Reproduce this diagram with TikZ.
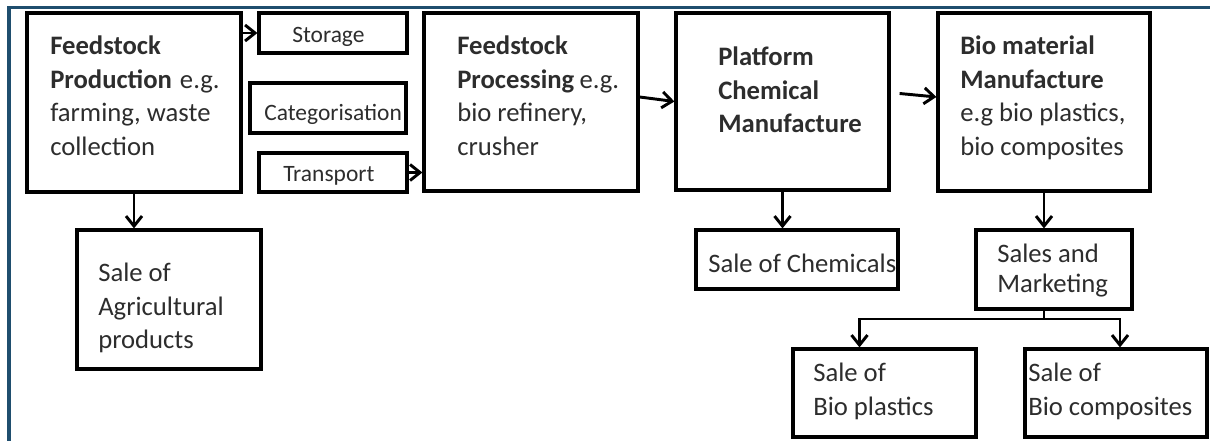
\documentclass[tikz,border=0pt]{standalone}
\usepackage{fontspec}
\setmainfont{Carlito}
\usetikzlibrary{arrows.meta,calc}
\definecolor{framec}{RGB}{31,78,110}
\definecolor{txtc}{RGB}{45,45,45}
\tikzset{
  box/.style={draw=black, line width=2.4pt, inner sep=0pt, fill=none},
  mtxt/.style={font=\fontsize{20}{25.3}\selectfont, text=txtc, align=left, inner sep=0pt, anchor=north west},
  stxt/.style={font=\fontsize{17.6}{21}\selectfont, text=txtc, inner sep=0pt, anchor=base west},
  arr/.style={draw=black, line width=2.2pt, -{Straight Barb[length=7.5pt,width=12pt]}},
  plain/.style={draw=black, line width=2.2pt},
  frameline/.style={draw=framec, line width=2.5pt}
}
\begin{document}
\begin{tikzpicture}[x=0.75pt, y=-0.75pt]
\useasboundingbox (0,0) rectangle (1210,441);
\draw[frameline] (9,441) -- (9,7.5) -- (1210,7.5);
% boxes
\node[box, minimum width=214*0.75pt, minimum height=179*0.75pt] (fp) at (134,102.5) {};
\node[box, minimum width=148*0.75pt, minimum height=40*0.75pt] (stor) at (333,33) {};
\node[box, minimum width=156*0.75pt, minimum height=50*0.75pt] (cat) at (328,108) {};
\node[box, minimum width=148*0.75pt, minimum height=39*0.75pt] (trans) at (333,172.5) {};
\node[box, minimum width=214*0.75pt, minimum height=178*0.75pt] (fproc) at (531,102) {};
\node[box, minimum width=213*0.75pt, minimum height=177*0.75pt] (plat) at (782.5,101.5) {};
\node[box, minimum width=212*0.75pt, minimum height=178*0.75pt] (bio) at (1044,102) {};
\node[box, minimum width=184*0.75pt, minimum height=139*0.75pt] (agri) at (169,299.5) {};
\node[box, minimum width=202*0.75pt, minimum height=59*0.75pt] (chem) at (797,259.5) {};
\node[box, minimum width=156*0.75pt, minimum height=79*0.75pt] (sm) at (1054,269.5) {};
\node[box, minimum width=183*0.75pt, minimum height=88*0.75pt] (bpl) at (884.5,393) {};
\node[box, minimum width=182*0.75pt, minimum height=88*0.75pt] (bcomp) at (1116,393) {};
% texts
\node[mtxt] (tfp) at (50,30.4) {\strut\textbf{Feedstock}\\\textbf{Production}\hspace{0.3em}e.g.\\farming, waste\\collection};
\node[stxt] (tstor) at (292,43) {Storage};
\node[stxt] (tcat) at (264,121) {Categorisation};
\node[stxt] (ttrans) at (283,182) {Transport};
\node[mtxt] (tfproc) at (457,30.4) {\strut\textbf{Feedstock}\\\textbf{Processing}\hspace{0.2em}e.g.\\bio refinery,\\crusher};
\node[mtxt] (tplat) at (718,41.4) {\strut\textbf{Platform}\\\textbf{Chemical}\\\textbf{Manufacture}};
\node[mtxt] (tbio) at (960,30.4) {\strut\textbf{Bio material}\\\textbf{Manufacture}\\e.g bio plastics,\\bio composites};
\node[mtxt] (tagri) at (98,257.4) {\strut Sale of\\Agricultural\\products};
\node[mtxt] (tchem) at (708,248.4) {\strut Sale of Chemicals};
\node[mtxt, font=\fontsize{20}{23}\selectfont] (tsm) at (997,240.5) {\strut Sales and\\Marketing};
\node[mtxt] (tbpl) at (813,357.4) {\strut Sale of\\Bio plastics};
\node[mtxt] (tbcomp) at (1028,357.4) {\strut Sale of\\Bio composites};
% connectors
\draw[arr] (fp.east |- stor.west) -- (stor.west);
\draw[arr] (trans.east) -- (trans.east -| fproc.west);
\draw[arr] ($(fproc.east)+(0,-5)$) -- (plat.west);
\draw[arr] ($(plat.east)+(9,-8)$) -- ($(bio.west)+(0,-5)$);
\draw[arr] (fp.south) -- (fp.south |- agri.north);
\draw[arr] (plat.south) -- (plat.south |- chem.north);
\draw[arr] (bio.south) -- (bio.south |- sm.north);
\coordinate (j) at (1044,319);
\draw[plain] (sm.south -| j) -- (j);
\draw[arr] (j) -| ($(bpl.north)+(-25,0)$);
\draw[arr] (j) -| ($(bcomp.north)+(4,0)$);
\end{tikzpicture}
\end{document}
